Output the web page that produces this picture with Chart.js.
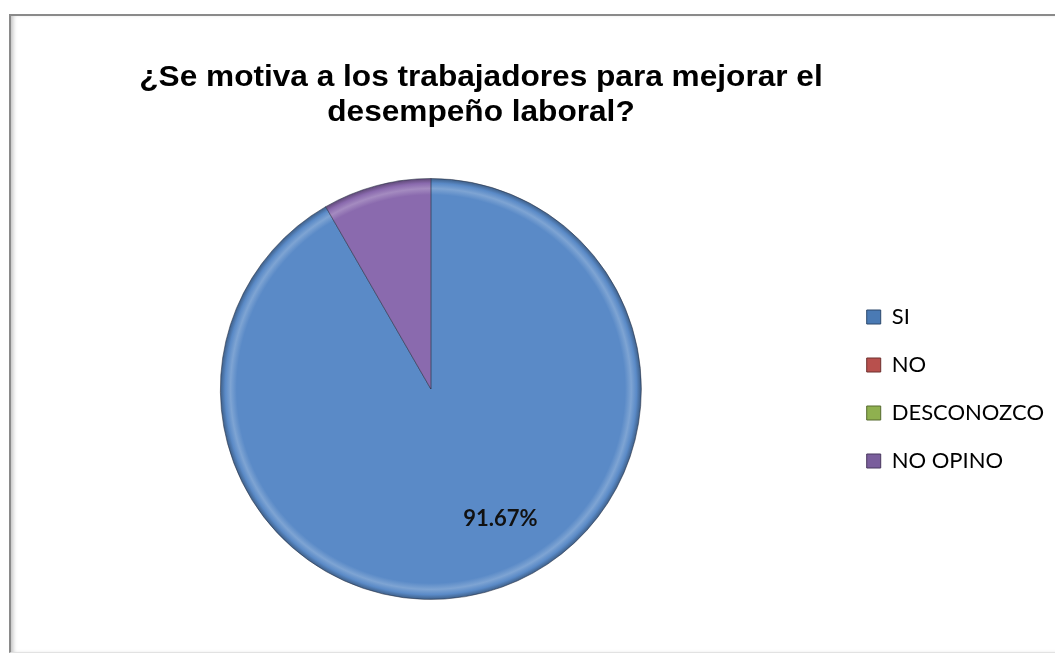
<!DOCTYPE html>
<html>
<head>
<meta charset="utf-8">
<script src="https://cdn.jsdelivr.net/npm/chart.js@4"></script>
<style>
  html, body { margin: 0; padding: 0; background: #fff; overflow: hidden; }
  .marco {
    position: absolute; left: 9px; top: 14px; width: 1052px; height: 636px;
    border-top: 2px solid #8a8a8a; border-left: 2px solid #8a8a8a;
    border-bottom: 1px solid #e2e2e2; border-right: 1px solid #e8e8e8;
    box-shadow: inset 4px 0 4px -2px rgba(0,0,0,0.25);
  }
  .lienzo { position: absolute; left: 0; top: 0; width: 1070px; height: 655px; }
</style>
</head>
<body>
<div class="marco"></div>
<div class="lienzo"><canvas id="myChart"></canvas></div>
<script>
// datos de la grafica
const categorias = ['SI', 'NO', 'DESCONOZCO', 'NO OPINO'];
const porcentajes = [91.67, 0, 0, 8.33];
const etiquetas = ['91.67%', '', '', ''];
const titulo = ['¿Se motiva a los trabajadores para mejorar el', 'desempeño laboral?'];

const coloresPastel = ['#5a8ac7', '#c0504d', '#9bbb59', '#8a6aae'];
const coloresLeyenda = ['#4a7ab4', '#b8504d', '#8fb04f', '#7a5e9c'];

// sombra tipo bisel en el borde
function aclarar(hex, f) {
  const n = parseInt(hex.slice(1), 16);
  let r = (n >> 16) & 255, g = (n >> 8) & 255, b = n & 255;
  if (f > 0) { r += (255 - r) * f; g += (255 - g) * f; b += (255 - b) * f; }
  else { r *= 1 + f; g *= 1 + f; b *= 1 + f; }
  return 'rgb(' + Math.round(r) + ',' + Math.round(g) + ',' + Math.round(b) + ')';
}

function relleno(ctx) {
  const base = coloresPastel[ctx.dataIndex];
  const area = ctx.chart.chartArea;
  if (!area) return base;
  const cx = (area.left + area.right) / 2;
  const cy = (area.top + area.bottom) / 2;
  const r = Math.min(area.right - area.left, area.bottom - area.top) / 2;
  const g = ctx.chart.ctx.createRadialGradient(cx, cy, 0, cx, cy, r);
  g.addColorStop(0, base);
  g.addColorStop(0.92, base);
  g.addColorStop(0.95, aclarar(base, 0.22));
  g.addColorStop(0.975, base);
  g.addColorStop(1, aclarar(base, -0.35));
  return g;
}

// titulo dibujado a mano (centrado como en excel)
const pluginTitulo = {
  id: 'titulo',
  afterDraw(chart) {
    const c = chart.ctx;
    c.save();
    c.fillStyle = '#000';
    c.font = 'bold 29px "Liberation Sans", Arial, sans-serif';
    c.textAlign = 'center';
    c.textBaseline = 'alphabetic';
    c.translate(481, 0);
    c.scale(1.09, 1);
    c.fillText(titulo[0], 0, 86);
    c.fillText(titulo[1], 0, 121);
    c.restore();
  }
};

// etiqueta de porcentaje
const pluginEtiquetas = {
  id: 'etiquetas',
  afterDatasetsDraw(chart) {
    const c = chart.ctx;
    const meta = chart.getDatasetMeta(0);
    c.save();
    c.fillStyle = '#111';
    c.font = 'bold 22px Lato, sans-serif';
    c.textAlign = 'center';
    c.textBaseline = 'middle';
    meta.data.forEach((arc, i) => {
      if (!etiquetas[i]) return;
      const p = arc.getProps(['x', 'y', 'startAngle', 'endAngle', 'outerRadius'], true);
      const ang = (p.startAngle + p.endAngle) / 2 - 0.23;
      const d = p.outerRadius * 0.7;
      c.fillText(etiquetas[i], p.x + Math.cos(ang) * d, p.y + Math.sin(ang) * d);
    });
    c.restore();
  }
};

const config = {
  type: 'pie',
  data: {
    labels: categorias,
    datasets: [{
      data: porcentajes,
      backgroundColor: relleno,
      borderColor: 'rgba(40,50,70,0.55)',
      borderWidth: 1
    }]
  },
  options: {
    responsive: true,
    maintainAspectRatio: false,
    animation: false,
    layout: {
      padding: { top: 178, bottom: 55, left: 21, right: 16 }
    },
    plugins: {
      tooltip: { enabled: false },
      legend: {
        position: 'right',
        labels: {
          boxWidth: 14,
          boxHeight: 14,
          padding: 26,
          color: '#000',
          font: { family: 'Lato', size: 22 },
          generateLabels(chart) {
            const items = Chart.overrides.pie.plugins.legend.labels.generateLabels(chart);
            items.forEach((it, i) => {
              it.fillStyle = coloresLeyenda[i];
              it.strokeStyle = aclarar(coloresLeyenda[i], -0.4);
              it.lineWidth = 1;
              it.hidden = false;
            });
            return items;
          }
        }
      }
    }
  },
  plugins: [pluginTitulo, pluginEtiquetas]
};

const ctx = document.getElementById('myChart').getContext('2d');
let myChart = new Chart(ctx, config);
</script>
</body>
</html>
